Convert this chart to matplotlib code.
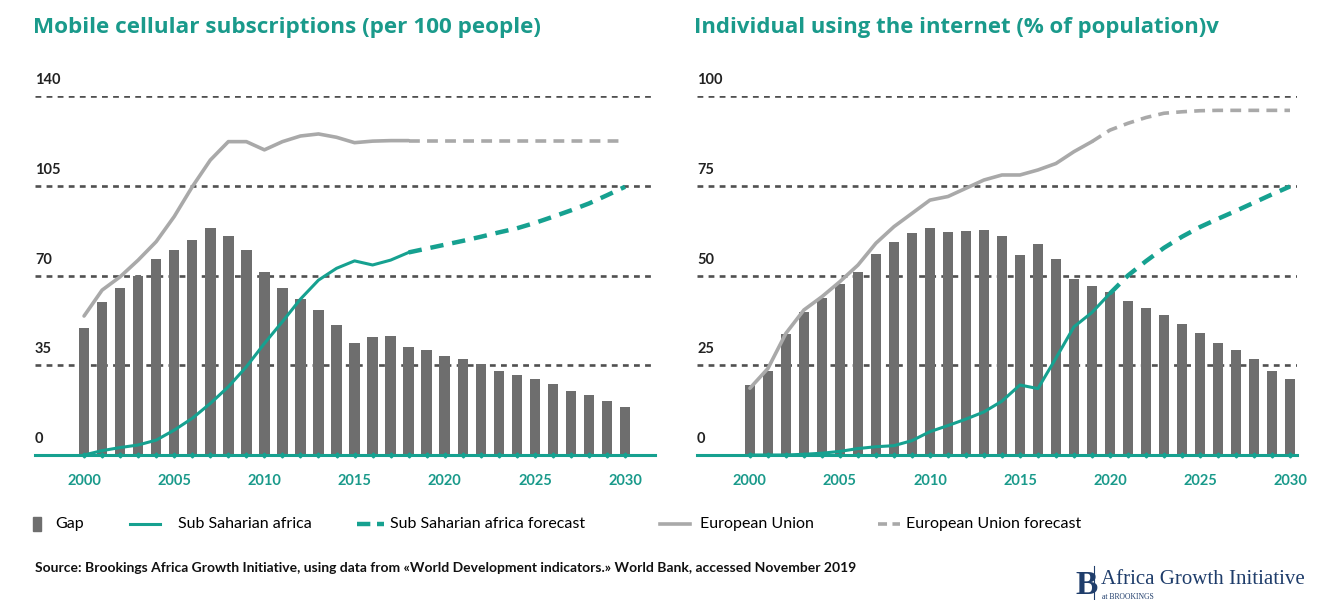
import matplotlib
matplotlib.use('Agg')
import matplotlib.pyplot as plt
import matplotlib.lines as mlines
import matplotlib.patches as mpatches
from matplotlib.transforms import blended_transform_factory

plt.rcParams['font.family'] = ['Lato', 'DejaVu Sans']

TEAL = '#16a190'
TITLE_TEAL = '#1a9a8b'
BAR_GREY = '#6e6e6e'
EU_GREY = '#a9a9a9'
GRID = '#505050'

# ---- data ----
years = list(range(2000, 2031))

# Mobile cellular subscriptions (per 100 people)
mob_gap = [49.4, 59.5, 65, 69.9, 76.3, 79.8, 83.7, 88.4, 85.5, 79.8, 71.2, 65.3, 60.8,
           56.5, 50.7, 43.8, 46, 46.4, 42.1, 40.9, 38.6, 37.3, 35.6, 32.9, 31.3, 29.5,
           27.8, 25, 23.4, 20.9, 18.7]
mob_ssa_years = list(range(2000, 2019))
mob_ssa = [0, 1.7, 2.9, 3.9, 5.8, 9.7, 14.3, 20.1, 26.6, 34.4, 43.5, 52, 60.8, 68.2,
           72.8, 75.7, 74.1, 76, 79]
mob_ssa_fc_years = list(range(2018, 2031))
mob_ssa_fc = [79, 80.5, 82, 83.5, 85.1, 86.8, 88.4, 90.5, 92.9, 95.4, 98.1, 101.3, 104.6]
mob_eu_years = list(range(2000, 2019))
mob_eu = [54.2, 64.3, 69.5, 76, 83.2, 93, 104.6, 115, 122.2, 122.2, 119, 122.2, 124.4,
          125.2, 123.9, 121.8, 122.4, 122.6, 122.6]
mob_eu_fc_years = list(range(2018, 2031))
mob_eu_fc = [122.6] * 13
mob_ticks = [0, 35, 70, 105, 140]

# Individuals using the internet (% of population)
net_gap = [19.5, 23.5, 33.6, 39.9, 43.6, 47.6, 50.9, 55.9, 59.4, 61.8, 63.1, 62.2, 62.4,
           62.6, 61.1, 55.7, 58.9, 54.6, 48.9, 47.1, 45.5, 42.9, 40.9, 38.9, 36.4, 34,
           31.3, 29.2, 26.7, 23.5, 21.1]
net_ssa_years = list(range(2000, 2021))
net_ssa = [0, 0, 0, 0.2, 0.5, 1, 1.8, 2.3, 2.6, 4, 6.5, 8.2, 10, 12, 15, 19.5, 18.5,
           27, 35.7, 39.7, 45]
net_ssa_fc_years = list(range(2020, 2031))
net_ssa_fc = [45, 50, 54, 57.7, 60.8, 63.5, 65.8, 68, 70.3, 72.6, 74.8]
net_eu_years = list(range(2000, 2020))
net_eu = [18.6, 24.1, 33.9, 40.4, 44.1, 48.3, 52.9, 59, 63.6, 67.3, 71, 72, 74.3, 76.6,
          78, 78, 79.4, 81.2, 84.5, 87.3]
net_eu_fc_years = list(range(2019, 2031))
net_eu_fc = [87.3, 90.5, 92.4, 94, 95.2, 95.6, 95.9, 96, 96, 96, 96, 96]
net_ticks = [0, 25, 50, 75, 100]

xtick_years = [2000, 2005, 2010, 2015, 2020, 2025, 2030]

W, H = 1335, 600
fig = plt.figure(figsize=(W / 100, H / 100), dpi=100)


def px(x0, y0, x1, y1):
    # pixel box (top-left origin) -> figure fraction rect
    return [x0 / W, 1 - y1 / H, (x1 - x0) / W, (y1 - y0) / H]


def draw_panel(rect, xlim, gap, ssa_y, ssa, ssa_fc_y, ssa_fc, eu_y, eu, eu_fc_y, eu_fc, ticks):
    ax = fig.add_axes(rect)
    ax.set_xlim(*xlim)
    ax.set_ylim(0, ticks[-1])
    for s in ax.spines.values():
        s.set_visible(False)

    for t in ticks[1:]:
        ax.axhline(t, color=GRID, linestyle=(0, (2.2, 2.0)), linewidth=1.9, zorder=1)

    ax.bar(years, gap, width=0.58, color=BAR_GREY, zorder=2)
    ax.plot(eu_y, eu, color=EU_GREY, linewidth=2.6, zorder=3, solid_capstyle='round')
    ax.plot(eu_fc_y, eu_fc, color=EU_GREY, linewidth=2.6, linestyle=(0, (3, 2)), zorder=3)
    ax.plot(ssa_y, ssa, color=TEAL, linewidth=2.2, zorder=4)
    ax.plot(ssa_fc_y, ssa_fc, color=TEAL, linewidth=3.2, linestyle=(0, (3, 2)), zorder=4)

    ax.axhline(0, color=TEAL, linewidth=2.2, zorder=5, clip_on=False)
    ax.plot(years, [0] * len(years), linestyle='none', marker='D', markersize=2.5,
            color=TEAL, zorder=5, clip_on=False)

    ax.set_yticks([])
    ax.set_xticks(xtick_years)
    ax.set_xticklabels([str(y) for y in xtick_years], color=TITLE_TEAL,
                       fontweight='bold', fontsize=10.5)
    ax.tick_params(axis='x', length=0, pad=14)

    tr = blended_transform_factory(ax.transAxes, ax.transData)
    for t in ticks:
        ax.annotate(str(t), xy=(0, t), xycoords=tr, xytext=(0, 9),
                    textcoords='offset pixels', ha='left', va='bottom',
                    fontsize=10.5, fontweight='bold', color='#222222')
    return ax


ax1 = draw_panel(px(35, 96, 655, 455), (1997.28, 2031.66),
                 mob_gap, mob_ssa_years, mob_ssa, mob_ssa_fc_years, mob_ssa_fc,
                 mob_eu_years, mob_eu, mob_eu_fc_years, mob_eu_fc, mob_ticks)
ax2 = draw_panel(px(697, 96, 1297, 455), (1997.06, 2030.39),
                 net_gap, net_ssa_years, net_ssa, net_ssa_fc_years, net_ssa_fc,
                 net_eu_years, net_eu, net_eu_fc_years, net_eu_fc, net_ticks)

title_kw = dict(ha='left', va='center', fontweight='bold',
                color=TITLE_TEAL, family='Open Sans')
fig.text(33 / W, 1 - 28 / H, 'Mobile cellular subscriptions (per 100 people)',
         fontsize=16.2, **title_kw)
fig.text(694 / W, 1 - 28 / H, 'Individual using the internet (% of population)v',
         fontsize=15.9, **title_kw)

# ---- legend (manual) ----
ly = 1 - 524 / H
fig.add_artist(mpatches.Rectangle((33 / W, 1 - 531 / H), 8 / W, 14 / H,
                                  color=BAR_GREY, transform=fig.transFigure))
fig.text(55 / W, ly, 'Gap', ha='left', va='center', fontsize=11.5)
legend_items = [
    (130, 160, TEAL, '-', 2.2, 178, 'Sub Saharian africa'),
    (357, 384, TEAL, (0, (3, 1.5)), 3.2, 390, 'Sub Saharian africa forecast'),
    (660, 690, EU_GREY, '-', 2.6, 700, 'European Union'),
    (878, 900, EU_GREY, (0, (2.5, 1.5)), 2.6, 906, 'European Union forecast'),
]
for x0, x1, c, ls, lw, tx, label in legend_items:
    fig.add_artist(mlines.Line2D([x0 / W, x1 / W], [ly, ly], color=c, linestyle=ls,
                                 linewidth=lw, transform=fig.transFigure))
    fig.text(tx / W, ly, label, ha='left', va='center', fontsize=11.5)

fig.text(35 / W, 1 - 568 / H,
         'Source: Brookings Africa Growth Initiative, using data from \u00abWorld Development '
         'indicators.\u00bb World Bank, accessed November 2019',
         ha='left', va='center', fontsize=10, fontweight='bold', color='#111111')

# ---- logo ----
LOGO = '#1f3d6b'
fig.text(1075 / W, 1 - 585 / H, 'B', ha='left', va='center', fontsize=24,
         family='Liberation Serif', fontweight='bold', color=LOGO)
fig.add_artist(mlines.Line2D([1094 / W, 1094 / W], [1 - 566 / H, 1 - 600 / H],
                             color=LOGO, linewidth=0.8, transform=fig.transFigure))
fig.text(1101 / W, 1 - 580 / H, 'Africa Growth Initiative', ha='left', va='center',
         fontsize=15, family='Liberation Serif', color=LOGO)
fig.text(1102 / W, 1 - 597 / H, 'at BROOKINGS', ha='left', va='center',
         fontsize=5.5, family='Liberation Serif', color=LOGO)

fig.savefig('out.png', dpi=100, facecolor='white')
